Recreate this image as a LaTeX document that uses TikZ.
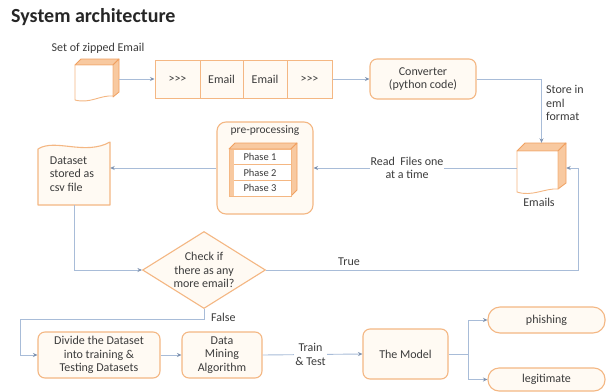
\documentclass[tikz,border=0pt]{standalone}
\usepackage{fontspec}
\setmainfont{Carlito}
\usetikzlibrary{arrows.meta,shapes.geometric,calc}
\definecolor{obrd}{HTML}{F4B783}
\definecolor{ofill}{HTML}{FFFAF3}
\definecolor{odark}{HTML}{F0A060}
\definecolor{oside}{HTML}{F8C9A0}
\definecolor{lnc}{HTML}{A8BCD8}
\definecolor{arc}{HTML}{7F93B0}
\definecolor{txc}{HTML}{3C3C3C}
\begin{document}
\begin{tikzpicture}[x=1pt,y=-1pt,
  font=\fontsize{12}{13.5}\selectfont, text=txc,
  box/.style={draw=obrd, fill=ofill, line width=1.1pt, rounded corners=7pt, align=center, inner sep=1pt},
  cell/.style={draw=obrd, fill=ofill, line width=1pt, minimum height=38pt, inner sep=0pt},
  phrow/.style={draw=obrd, fill=white, line width=0.8pt, minimum width=62pt, minimum height=15.67pt, inner sep=0pt, font=\fontsize{10.5}{12}\selectfont},
  ghost/.style={inner sep=0pt},
  conn/.style={draw=lnc, line width=0.9pt, -{Stealth[length=4.5pt,width=4pt,color=arc]}},
  lbl/.style={inner sep=1pt, align=left},
  iconside/.style={fill=oside, draw=odark, line width=0.8pt, line join=round},
  iconfront/.style={fill=white, draw=obrd, line width=0.9pt, line join=round}
]
\useasboundingbox (0,0) rectangle (607,391);
\fill[white] (0,0) rectangle (607,391);

% title
\node[anchor=west, font=\bfseries\fontsize{20}{22}\selectfont, text=black!85, inner sep=0pt] (title) at (11,17) {System architecture};

% zipped email icon
\node[lbl] (ziplbl) at (98,48) {Set of zipped Email};
\node[ghost, minimum width=44pt, minimum height=42pt] (zip) at (97,79) {};
\path[iconside] (75,65) -- (81,59) -- (119,59) -- (113,65) -- cycle;
\path[iconside] (113,65) -- (119,59) -- (119,92) -- (113,97) -- cycle;
\path[iconfront] (75,65) -- (113,65) -- (113,96) .. controls (100,95) and (90,104) .. (75,100) -- cycle;

% queue
\node[cell, minimum width=45pt] (q1) at (177.5,79) {>{}>{}>};
\node[cell, minimum width=43pt] (q2) at (221.5,79) {Email};
\node[cell, minimum width=44pt] (q3) at (265,79) {Email};
\node[cell, minimum width=45pt] (q4) at (309.5,79) {>{}>{}>};
\draw[conn] (zip.east) -- (q1.west);

% converter
\node[box, minimum width=106pt, minimum height=40pt] (conv) at (423,79) {Converter\\(python code)};
\draw[conn] (q4.east) -- (conv.west);

% emails icon
\node[ghost, minimum width=49pt, minimum height=50pt] (em) at (541.5,168) {};
\path[iconside] (517,151) -- (525,143) -- (566,143) -- (558,151) -- cycle;
\path[iconside] (558,151) -- (566,143) -- (566,183) -- (558,189) -- cycle;
\path[iconfront] (517,151) -- (558,151) -- (558,189) .. controls (545,188) and (532,197) .. (517,192) -- cycle;
\node[lbl] (emlbl) at (539,202) {Emails};

\draw[conn] (conv.east) -| (em.north);
\node[lbl, anchor=west] (storelbl) at (545,103) {Store in\\eml\\format};

% pre-processing
\node[box, minimum width=96pt, minimum height=92pt, rounded corners=9pt] (pre) at (265,168) {};
\node[lbl, font=\fontsize{11.5}{13}\selectfont] (pretitle) at (265,131) {pre-processing};
\path[iconside] (229,149) -- (235,143) -- (297,143) -- (291,149) -- cycle;
\path[iconside] (291,149) -- (297,143) -- (297,190) -- (291,196) -- cycle;
\node[phrow] (ph1) at (260,156.8) {Phase 1};
\node[phrow] (ph2) at (260,172.5) {Phase 2};
\node[phrow] (ph3) at (260,188.2) {Phase 3};
\fill[oside] (229.5,149.5) rectangle (234,195.5);
\draw[obrd, line width=0.8pt] (229,149) rectangle (291,196);

\draw[conn] (em.west) -- node[pos=0.54, fill=white, align=center, inner sep=1pt] (readlbl) {Read \ Files one\\at a time} (pre.east);

% dataset
\node[ghost, minimum width=72pt, minimum height=62pt] (ds) at (74,174) {};
\path[iconfront, fill=ofill, line width=1.1pt] (38,149) .. controls (55,138) and (85,156) .. (110,142) -- (110,205) -- (38,205) -- cycle;
\node[lbl] (dstext) at (72,174) {Dataset\\stored as\\csv file};
\draw[conn] (pre.west) -- (pre.west -| ds.east);

% decision
\node[diamond, draw=obrd, fill=ofill, line width=1.1pt, minimum width=123pt, minimum height=77pt, inner sep=0pt] (dia) at (204,270) {};
\node[align=center, inner sep=0pt] (diatext) at (204,270) {Check if\\there as any\\more email?};
\draw[conn] (ds.south) |- (dia.west);

\coordinate (tc) at (578,270);
\draw[conn] (dia.east) -- (tc) |- (em.east);
\node[lbl] (truelbl) at (349,262) {True};

% bottom row
\node[box, minimum width=122pt, minimum height=46pt] (div) at (99,355) {Divide the Dataset\\into training \&\\Testing Datasets};
\node[box, minimum width=80pt, minimum height=46pt] (dm) at (222,355) {Data\\Mining\\Algorithm};
\node[box, minimum width=85pt, minimum height=50pt] (model) at (405.5,354) {The Model};
\node[box, minimum width=117pt, minimum height=26pt, rounded corners=12pt] (phish) at (546.5,320) {phishing};
\node[box, minimum width=117pt, minimum height=23pt, rounded corners=11pt] (legit) at (546.5,379.5) {legitimate};

\coordinate (f1) at (20,319);
\draw[conn] (dia.south) |- (f1) |- (div.west);
\node[lbl, anchor=west] (falselbl) at (210,317) {False};

\draw[conn] (div.east) -- (dm.west);
\draw[conn] (dm.east) -- node[pos=0.48, fill=white, align=center, inner sep=1pt] (trainlbl) {Train\\\& Test} (model.west);

\coordinate (sp) at (468,354);
\draw[draw=lnc, line width=0.9pt] (model.east) -- (sp);
\draw[conn] (sp) |- (phish.west);
\draw[conn] (sp) |- (legit.west);
\end{tikzpicture}
\end{document}
